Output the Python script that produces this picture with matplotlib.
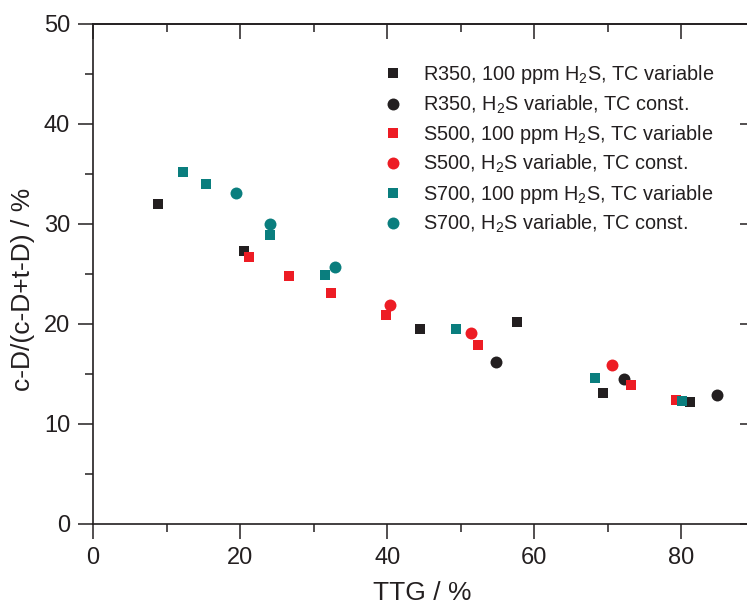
import numpy as np
import matplotlib
matplotlib.use('Agg')
import matplotlib.pyplot as plt
from matplotlib.ticker import MultipleLocator

plt.rcParams['font.family'] = ['Liberation Sans', 'DejaVu Sans']
plt.rcParams['mathtext.fontset'] = 'custom'
plt.rcParams['mathtext.rm'] = 'Liberation Sans'
plt.rcParams['mathtext.it'] = 'Liberation Sans:italic'

# data (TTG %, c-D/(c-D+t-D) %)
r350_tc_x = [8.8, 20.5, 44.4, 57.6, 69.4, 81.1]
r350_tc_y = [32.0, 27.3, 19.5, 20.2, 13.1, 12.2]
r350_h2s_x = [54.8, 72.2, 84.9]
r350_h2s_y = [16.2, 14.5, 12.9]
s500_tc_x = [21.2, 26.6, 32.4, 39.8, 52.3, 73.1, 79.3]
s500_tc_y = [26.7, 24.8, 23.1, 20.9, 17.9, 13.9, 12.4]
s500_h2s_x = [40.4, 51.4, 70.6]
s500_h2s_y = [21.9, 19.1, 15.9]
s700_tc_x = [12.2, 15.3, 24.0, 31.6, 49.4, 68.2, 80.1]
s700_tc_y = [35.2, 34.0, 28.9, 24.9, 19.5, 14.6, 12.3]
s700_h2s_x = [19.4, 24.1, 32.9]
s700_h2s_y = [33.1, 30.0, 25.7]

black = '#231f20'
red = '#ed1c24'
teal = '#0a7e7e'

fig = plt.figure(figsize=(7.47, 6.06), dpi=100)
ax = fig.add_axes([93/747, 82/606, 662/747, 500/606])

series = [
    (r350_tc_x, r350_tc_y, 's', black, r'R350, 100 ppm H$_2$S, TC variable'),
    (r350_h2s_x, r350_h2s_y, 'o', black, r'R350, H$_2$S variable, TC const.'),
    (s500_tc_x, s500_tc_y, 's', red, r'S500, 100 ppm H$_2$S, TC variable'),
    (s500_h2s_x, s500_h2s_y, 'o', red, r'S500, H$_2$S variable, TC const.'),
    (s700_tc_x, s700_tc_y, 's', teal, r'S700, 100 ppm H$_2$S, TC variable'),
    (s700_h2s_x, s700_h2s_y, 'o', teal, r'S700, H$_2$S variable, TC const.'),
]
for x, y, m, c, lab in series:
    ms = 7.5 if m == 's' else 8.6
    ax.plot(x, y, linestyle='none', marker=m, ms=ms, color=c,
            markeredgewidth=0, label=lab)

ax.set_xlim(0, 90)
ax.set_ylim(0, 50)
ax.xaxis.set_major_locator(MultipleLocator(20))
ax.xaxis.set_minor_locator(MultipleLocator(10))
ax.yaxis.set_major_locator(MultipleLocator(10))
ax.yaxis.set_minor_locator(MultipleLocator(5))
ax.tick_params(which='major', direction='out', length=11, width=1.1,
               labelsize=17, pad=5.5, color=black, labelcolor=black)
ax.tick_params(which='minor', direction='out', length=6, width=1.1, color=black)
for s in ax.spines.values():
    s.set_linewidth(1.2)
    s.set_color(black)

# top / right axes with inward ticks
for loc in ['top', 'right']:
    if loc == 'top':
        sec = ax.secondary_xaxis('top')
        sec.xaxis.set_major_locator(MultipleLocator(20))
        sec.xaxis.set_minor_locator(MultipleLocator(10))
    else:
        sec = ax.secondary_yaxis('right')
        sec.yaxis.set_major_locator(MultipleLocator(10))
        sec.yaxis.set_minor_locator(MultipleLocator(5))
    sec.tick_params(which='major', direction='in', length=11, width=1.1, color=black)
    sec.tick_params(which='minor', direction='in', length=6, width=1.1, color=black)
    sec.tick_params(labeltop=False, labelright=False)
    sec.spines[loc].set_linewidth(1.2)
    sec.spines[loc].set_color(black)

ax.set_xlabel('TTG / %', fontsize=19, color=black)
ax.xaxis.set_label_coords(0.498, -0.139)
ax.xaxis.label.set_verticalalignment('center')
ax.set_ylabel('c-D/(c-D+t-D) / %', fontsize=19, color=black)
ax.yaxis.set_label_coords(-0.105, 0.47)
ax.yaxis.label.set_verticalalignment('center')

leg = ax.legend(loc='upper left', bbox_to_anchor=(0.426, 0.937), frameon=False,
                fontsize=14.3, handletextpad=1.0, labelspacing=0.36,
                handlelength=1.0, borderaxespad=0)
for t in leg.get_texts():
    t.set_color(black)

fig.savefig('out.png', dpi=100)
